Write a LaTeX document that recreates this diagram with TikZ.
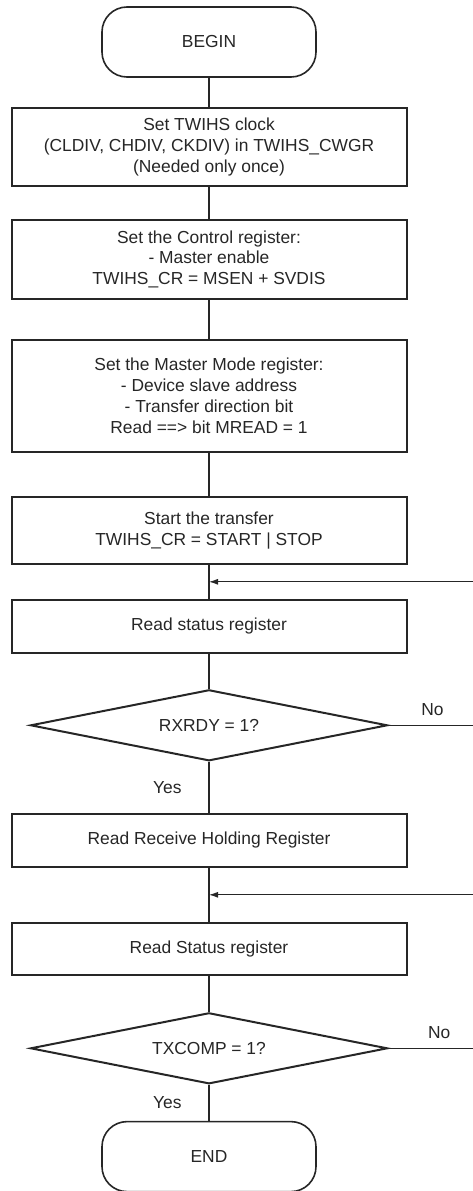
\documentclass[tikz,border=0pt]{standalone}
\usepackage{fontspec}
\setmainfont{Liberation Sans}
\usetikzlibrary{shapes.geometric,arrows.meta,positioning,calc}
\definecolor{FlowInk}{HTML}{262626}

\begin{document}
\begin{tikzpicture}[x=1pt,y=1pt,font=\fontsize{17.4}{20.8}\selectfont,text=FlowInk,
  termbox/.style={draw=FlowInk,line width=1.6pt,rounded corners=25pt,minimum width=214pt,minimum height=70pt},
  actbox/.style={draw=FlowInk,line width=2pt,minimum width=395pt,align=center},
  testbox/.style={draw=FlowInk,line width=2pt,diamond,aspect=5,minimum width=357pt,minimum height=71pt,inner sep=0pt},
  flow/.style={draw=FlowInk,line width=1.1pt},
  back/.style={flow,-{Latex[length=9pt,width=6pt]}},
  tag/.style={inner sep=0pt}]
  \useasboundingbox (0,0) rectangle (473,-1191);
  \coordinate (rim) at (473,0);
  % steps
  \node[termbox] (begin) at (209,-42) {BEGIN};
  \node[actbox,minimum height=78pt,below=29pt of begin] (clk) {Set TWIHS clock\\(CLDIV, CHDIV, CKDIV) in TWIHS\_CWGR\\(Needed only once)};
  \node[actbox,minimum height=79pt,below=32pt of clk] (ctrl) {Set the Control register:\\- Master enable\\TWIHS\_CR = MSEN + SVDIS};
  \node[actbox,minimum height=112pt,below=39pt of ctrl] (mmr) {Set the Master Mode register:\\- Device slave address\\- Transfer direction bit\\Read ==> bit MREAD = 1};
  \node[actbox,minimum height=67pt,below=43pt of mmr] (start) {Start the transfer\\TWIHS\_CR = START | STOP};
  \node[actbox,minimum height=53pt,below=34pt of start] (rdsr) {Read status register};
  \node[testbox,below=35pt of rdsr] (rxrdy) {RXRDY = 1?};
  \node[actbox,minimum height=53pt,below=51pt of rxrdy] (rhr) {Read Receive Holding Register};
  \node[actbox,minimum height=52pt,below=54pt of rhr] (rdsr2) {Read Status register};
  \node[testbox,below=36pt of rdsr2] (txcomp) {TXCOMP = 1?};
  \node[termbox,below=36pt of txcomp] (finish) {END};
  % joins for the loops
  \coordinate (j1) at ($(start.south)!0.5!(rdsr.north)$);
  \coordinate (j2) at ($(rhr.south)!0.5!(rdsr2.north)$);
  % trunk
  \draw[flow] (begin) -- (clk);
  \draw[flow] (clk) -- (ctrl);
  \draw[flow] (ctrl) -- (mmr);
  \draw[flow] (mmr) -- (start);
  \draw[flow] (start) -- (rdsr);
  \draw[flow] (rdsr) -- (rxrdy);
  \draw[flow] (rxrdy) -- node[tag,left=27pt] {Yes} (rhr);
  \draw[flow] (rhr) -- (rdsr2);
  \draw[flow] (rdsr2) -- (txcomp);
  \draw[flow] (txcomp) -- node[tag,left=27pt] {Yes} (finish);
  % No branches and returns
  \draw[flow] (rxrdy.east) -- node[tag,pos=0.52,above=9pt] {No} (rxrdy.east -| rim);
  \draw[flow] (txcomp.east) -- node[tag,pos=0.6,above=9pt] {No} (txcomp.east -| rim);
  \draw[back] (j1 -| rim) -- (j1);
  \draw[back] (j2 -| rim) -- (j2);
\end{tikzpicture}
\end{document}
